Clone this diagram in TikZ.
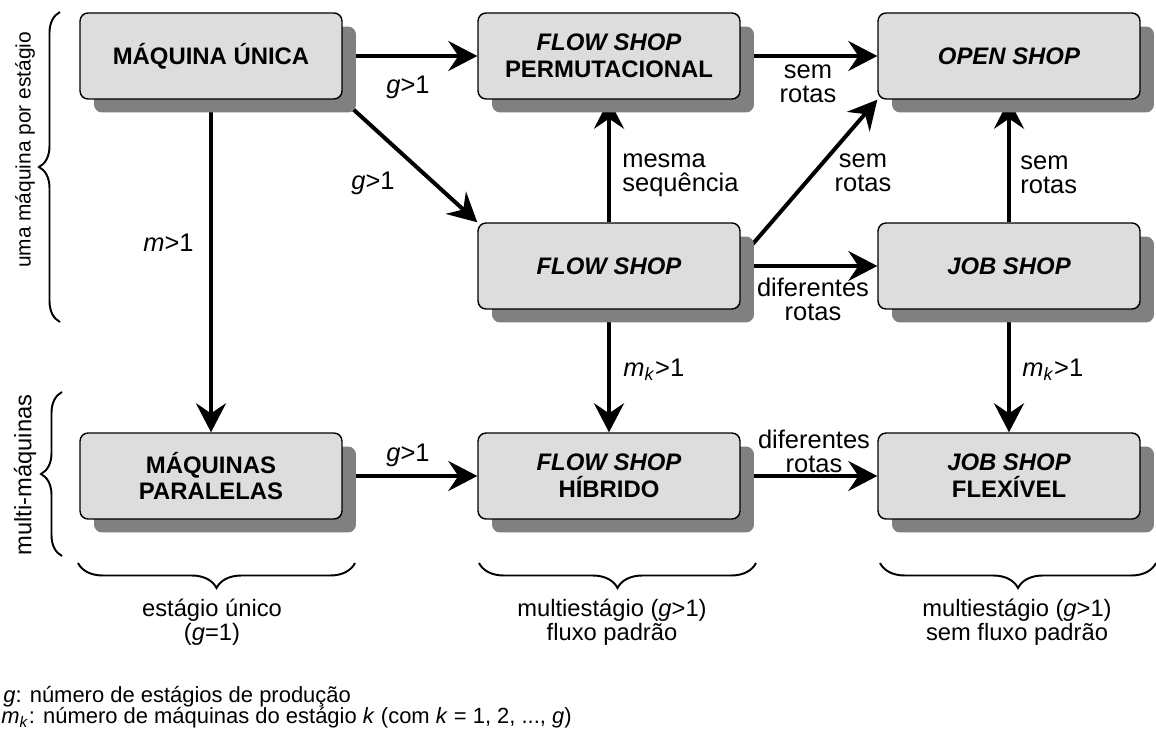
\documentclass[tikz,border=0pt]{standalone}
\usepackage{fontspec}
\setmainfont{Liberation Sans}
\usetikzlibrary{arrows.meta,calc,shadows,backgrounds,decorations.pathreplacing}
\definecolor{boxgray}{RGB}{221,221,221}
\definecolor{shadowgray}{RGB}{128,128,128}

\begin{document}
\begin{tikzpicture}[x=0.02cm, y=-0.02cm,
  cls/.style={draw, rectangle, rounded corners=0.16cm, fill=boxgray, line width=0.8pt, align=center, minimum width=5.24cm, minimum height=1.72cm, font=\fontsize{13.6}{15.3}\selectfont\bfseries, drop shadow={shadow xshift=0.28cm, shadow yshift=-0.27cm, fill=shadowgray, opacity=1}},
  lbl/.style={align=center, inner sep=0pt, font=\fontsize{14.5}{13.6}\selectfont},
  grp/.style={align=center, inner sep=0pt, font=\fontsize{13.5}{12}\selectfont},
  conn/.style={line width=0.08cm, -{Stealth[length=0.58cm, width=0.6cm, inset=0.2cm]}},
  brc/.style={decorate, decoration={brace, amplitude=#1}, line width=1.1pt},
]
\useasboundingbox (0,0) rectangle (1156,740);
\node[cls] (mu) at (211,56) {MÁQUINA ÚNICA};
\node[cls] (fsp) at (609,56) {\textit{FLOW SHOP}\\PERMUTACIONAL};
\node[cls] (os) at (1009,56) {\textit{OPEN SHOP}};
\node[cls] (fs) at (609,266) {\textit{FLOW SHOP}};
\node[cls] (js) at (1009,266) {\textit{JOB SHOP}};
\node[cls] (mp) at (211,476) {MÁQUINAS\\PARALELAS};
\node[cls] (fsh) at (609,476) {\textit{FLOW SHOP}\\HÍBRIDO};
\node[cls] (jsf) at (1009,476) {\textit{JOB SHOP}\\FLEXÍVEL};

\begin{scope}[on background layer]
\draw[conn] (mu) -- (fsp);
\draw[conn] (mu.south east) -- (fs.north west);
\draw[conn] (mu) -- (mp);
\draw[conn] (mp) -- (fsh);
\draw[conn] (fs) -- (fsp);
\draw[conn] (fsp) -- (os);
\draw[conn] ($(fs.east)+(0,-8)$) -- (os.south west);
\draw[conn] (fs) -- (js);
\draw[conn] (js) -- (os);
\draw[conn] (fs) -- (fsh);
\draw[conn] (js) -- (jsf);
\draw[conn] (fsh) -- (jsf);
\end{scope}

\node[lbl] (gmu) at (408,87) {\textit{g}>1};
\node[lbl] (gdiag) at (373,183) {\textit{g}>1};
\node[lbl, anchor=west] (mmu) at (143,243) {\textit{m}>1};
\node[lbl] (gmp) at (408,455) {\textit{g}>1};
\node[lbl, anchor=west, align=left] (mesma) at (622,175) {mesma\\sequência};
\node[lbl] (sem1) at (808,84) {sem\\rotas};
\node[lbl] (sem2) at (863,173) {sem\\rotas};
\node[lbl] (dif1) at (813,299) {diferentes\\rotas};
\node[lbl, anchor=west, align=left] (sem3) at (1020,175) {sem\\rotas};
\node[lbl, anchor=west] (mk1) at (623,370) {\textit{m}\textsubscript{\textit{k}}>1};
\node[lbl, anchor=west] (mk2) at (1022,370) {\textit{m}\textsubscript{\textit{k}}>1};
\node[lbl] (dif2) at (814,451) {diferentes\\rotas};

% chaves
\draw[brc=0.42cm] (60,322) -- (60,12);
\draw[brc=0.42cm] (62,556) -- (62,392);
\draw[brc=0.5cm] (355,563) -- (78,563);
\draw[brc=0.5cm] (756,563) -- (479,563);
\draw[brc=0.5cm] (1156,563) -- (880,563);
\node[grp, rotate=90, font=\fontsize{11.9}{12}\selectfont] (uma) at (25,150) {uma máquina por estágio};
\node[grp, rotate=90] (multi) at (25,475) {multi-máquinas};
\node[grp] (unico) at (212,622) {estágio único\\(\textit{g}=1)};
\node[grp] (padrao) at (612,622) {multiestágio (\textit{g}>1)\\fluxo padrão};
\node[grp] (sempadrao) at (1017,622) {multiestágio (\textit{g}>1)\\sem fluxo padrão};

% legenda
\node[anchor=west, inner sep=0pt, font=\fontsize{12.5}{14}\selectfont] (leg1) at (3,697) {\textit{g}: número de estágios de produção};
\node[anchor=west, inner sep=0pt, font=\fontsize{12.5}{14}\selectfont] (leg2) at (1,718) {\textit{m}\textsubscript{\textit{k}}: número de máquinas do estágio \textit{k} (com \textit{k} = 1, 2, ..., \textit{g})};
\end{tikzpicture}
\end{document}
